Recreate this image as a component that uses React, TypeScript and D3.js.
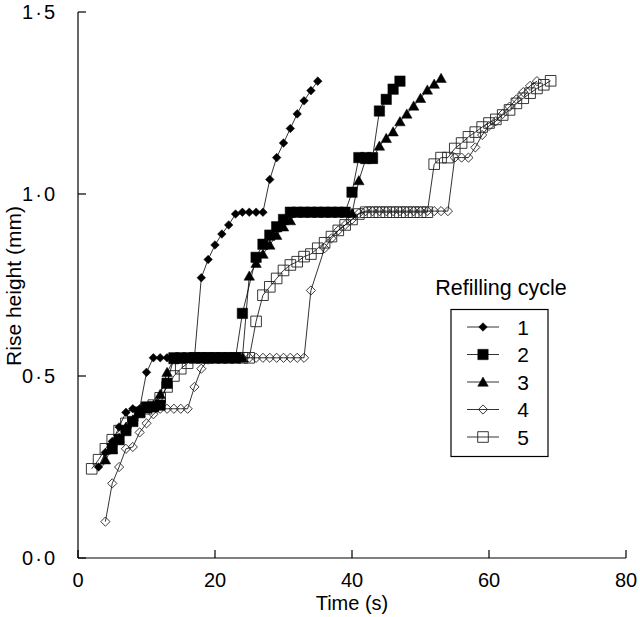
import React from "react";
import * as d3 from "d3";

const xTicks = [0, 20, 40, 60, 80];
const yTicks = [0, 0.5, 1.0, 1.5];
const yTickLabels = ["0·0", "0·5", "1·0", "1·5"];
const seriesNames = ["1", "2", "3", "4", "5"];

const s1T = [3,4,5,6,7,8,9,10,11,12,13,14,15,16,17,18,19,20,21,22,23,24,25,26,27,28,29,30,31,32,33,34,35];
const s1V = [0.25,0.29,0.32,0.36,0.40,0.41,0.41,0.51,0.55,0.55,0.55,0.55,0.55,0.55,0.55,0.77,0.82,0.86,0.89,0.915,0.945,0.95,0.95,0.95,0.95,1.04,1.10,1.14,1.18,1.22,1.256,1.284,1.31];

const s2T = [5,6,7,8,9,10,11,12,13,14,15,16,17,18,19,20,21,22,23,24,26,27,28,29,30,31,32,33,34,35,36,37,38,39,40,41,42,43,44,45,46,47];
const s2V = [0.30,0.325,0.35,0.375,0.40,0.415,0.415,0.42,0.48,0.55,0.55,0.55,0.55,0.55,0.55,0.55,0.55,0.55,0.55,0.672,0.826,0.862,0.887,0.91,0.93,0.95,0.95,0.95,0.95,0.95,0.95,0.95,0.95,0.95,1.005,1.10,1.10,1.10,1.228,1.26,1.288,1.31];

const s3T = [4,5,6,7,8,9,10,11,12,13,14,15,16,17,18,19,20,21,22,23,24,25,26,27,28,29,30,31,32,33,34,35,36,37,38,39,40,41,42,43,44,45,46,47,48,49,50,51,52,53];
const s3V = [0.27,0.30,0.33,0.36,0.38,0.40,0.41,0.42,0.45,0.51,0.545,0.55,0.55,0.55,0.55,0.55,0.55,0.55,0.55,0.55,0.55,0.775,0.81,0.835,0.86,0.887,0.91,0.927,0.95,0.95,0.95,0.95,0.95,0.95,0.95,0.95,0.947,1.037,1.095,1.095,1.132,1.153,1.171,1.199,1.22,1.242,1.263,1.286,1.302,1.318];

const s4T = [4,5,6,7,8,9,10,11,12,13,14,15,16,17,18,19,20,21,22,23,24,25,26,27,28,29,30,31,32,33,34,36,37,38,39,40,41,42,43,44,45,46,47,48,49,50,51,52,53,54,55,56,57,58,59,60,61,62,63,64,65,66,67];
const s4V = [0.10,0.205,0.25,0.30,0.305,0.345,0.37,0.395,0.41,0.41,0.41,0.41,0.41,0.47,0.52,0.545,0.55,0.55,0.55,0.55,0.55,0.55,0.55,0.55,0.55,0.55,0.55,0.55,0.55,0.55,0.735,0.851,0.878,0.90,0.915,0.93,0.947,0.953,0.953,0.953,0.953,0.953,0.953,0.953,0.953,0.953,0.953,0.953,0.953,0.953,1.10,1.10,1.10,1.128,1.162,1.187,1.20,1.22,1.24,1.26,1.28,1.297,1.31];

const s5T = [2,3,4,5,6,7,8,9,10,11,12,13,14,15,16,17,18,19,20,21,22,23,24,25,26,27,28,29,30,31,32,33,34,35,36,37,38,39,40,41,42,43,44,45,46,47,48,49,50,51,52,53,54,55,56,57,58,59,60,61,62,63,64,65,66,67,68,69];
const s5V = [0.245,0.27,0.30,0.325,0.35,0.37,0.39,0.40,0.41,0.42,0.44,0.47,0.50,0.52,0.535,0.55,0.55,0.55,0.55,0.55,0.55,0.55,0.55,0.55,0.65,0.722,0.745,0.768,0.79,0.805,0.814,0.828,0.835,0.851,0.866,0.883,0.90,0.915,0.93,0.945,0.95,0.95,0.95,0.95,0.95,0.95,0.95,0.95,0.95,0.95,1.082,1.10,1.10,1.125,1.14,1.157,1.17,1.184,1.195,1.205,1.217,1.231,1.249,1.263,1.277,1.29,1.30,1.311];

const FONT = "'Liberation Sans', Arial, Helvetica, sans-serif";

type MarkerKind = "fdiamond" | "fsquare" | "ftriangle" | "odiamond" | "osquare";

function markerPath(kind: MarkerKind): string {
  switch (kind) {
    case "fdiamond": { const r = 4.3; return `M0,${-r}L${r},0L0,${r}L${-r},0Z`; }
    case "odiamond": { const r = 4.6; return `M0,${-r}L${r},0L0,${r}L${-r},0Z`; }
    case "fsquare": { const h = 5.2; return `M${-h},${-h}H${h}V${h}H${-h}Z`; }
    case "osquare": { const h = 5.3; return `M${-h},${-h}H${h}V${h}H${-h}Z`; }
    case "ftriangle": { const h = 5; return `M0,${-h}L${h * 1.05},${h * 0.85}L${-h * 1.05},${h * 0.85}Z`; }
  }
}

function Marker({ kind, x, y }: { kind: MarkerKind; x: number; y: number }) {
  const filled = kind.startsWith("f");
  return (
    <path
      d={markerPath(kind)}
      transform={`translate(${x},${y})`}
      fill={filled ? "#000" : "none"}
      stroke={filled ? "#000" : "#222"}
      strokeWidth={filled ? 0.5 : 0.9}
    />
  );
}

export default function App() {
  const W = 640, H = 617;
  const x = d3.scaleLinear().domain([0, 80]).range([78, 626]);
  const y = d3.scaleLinear().domain([0, 1.5]).range([558, 12]);

  const series: { t: number[]; v: number[]; kind: MarkerKind }[] = [
    { t: s5T, v: s5V, kind: "osquare" },
    { t: s4T, v: s4V, kind: "odiamond" },
    { t: s3T, v: s3V, kind: "ftriangle" },
    { t: s2T, v: s2V, kind: "fsquare" },
    { t: s1T, v: s1V, kind: "fdiamond" },
  ];
  const legendKinds: MarkerKind[] = ["fdiamond", "fsquare", "ftriangle", "odiamond", "osquare"];

  const line = d3.line<[number, number]>().x((d) => x(d[0])).y((d) => y(d[1]));

  return (
    <svg width={W} height={H} style={{ position: "absolute", left: 0, top: 0, background: "#fff" }} fontFamily={FONT}>
      <rect width={W} height={H} fill="#fff" />
      {/* axes */}
      <line x1={x(0)} x2={x(0)} y1={y(1.5)} y2={y(0)} stroke="#000" strokeWidth={1.2} />
      <line x1={x(0)} x2={x(80)} y1={y(0)} y2={y(0)} stroke="#000" strokeWidth={1.2} />
      {yTicks.map((v, i) => (
        <g key={"yt" + i}>
          <line x1={x(0)} x2={x(0) + 8} y1={y(v)} y2={y(v)} stroke="#000" strokeWidth={1.2} />
          <text x={57} y={y(v)} dy="0.36em" textAnchor="end" fontSize={20} letterSpacing={2}>{yTickLabels[i]}</text>
        </g>
      ))}
      {xTicks.map((t, i) => (
        <g key={"xt" + i}>
          <line x1={x(t)} x2={x(t)} y1={y(0)} y2={y(0) - 8} stroke="#000" strokeWidth={1.2} />
          <text x={x(t)} y={587} textAnchor="middle" fontSize={20}>{t}</text>
        </g>
      ))}
      <text x={x(40)} y={610} textAnchor="middle" fontSize={20}>Time (s)</text>
      <text transform={`translate(21,${286}) rotate(-90)`} textAnchor="middle" fontSize={21}>Rise height (mm)</text>

      {/* series */}
      {series.map((s, si) => {
        const pts: [number, number][] = s.t.map((t, i) => [t, s.v[i]]);
        return (
          <g key={"s" + si}>
            <path d={line(pts) || ""} fill="none" stroke="#000" strokeWidth={0.8} />
            {pts.map((p, i) => (
              <Marker key={i} kind={s.kind} x={x(p[0])} y={y(p[1])} />
            ))}
          </g>
        );
      })}

      {/* legend */}
      <text x={501} y={295} textAnchor="middle" fontSize={21.5}>Refilling cycle</text>
      <rect x={451} y={309.5} width={97} height={147} fill="#fff" stroke="#000" strokeWidth={1.2} />
      {seriesNames.map((n, i) => {
        const ly = 327 + i * 27.5;
        return (
          <g key={"lg" + i}>
            <line x1={467} x2={499} y1={ly} y2={ly} stroke="#000" strokeWidth={0.8} />
            <Marker kind={legendKinds[i]} x={483} y={ly} />
            <text x={523} y={ly} dy="0.36em" textAnchor="middle" fontSize={21}>{n}</text>
          </g>
        );
      })}
    </svg>
  );
}
